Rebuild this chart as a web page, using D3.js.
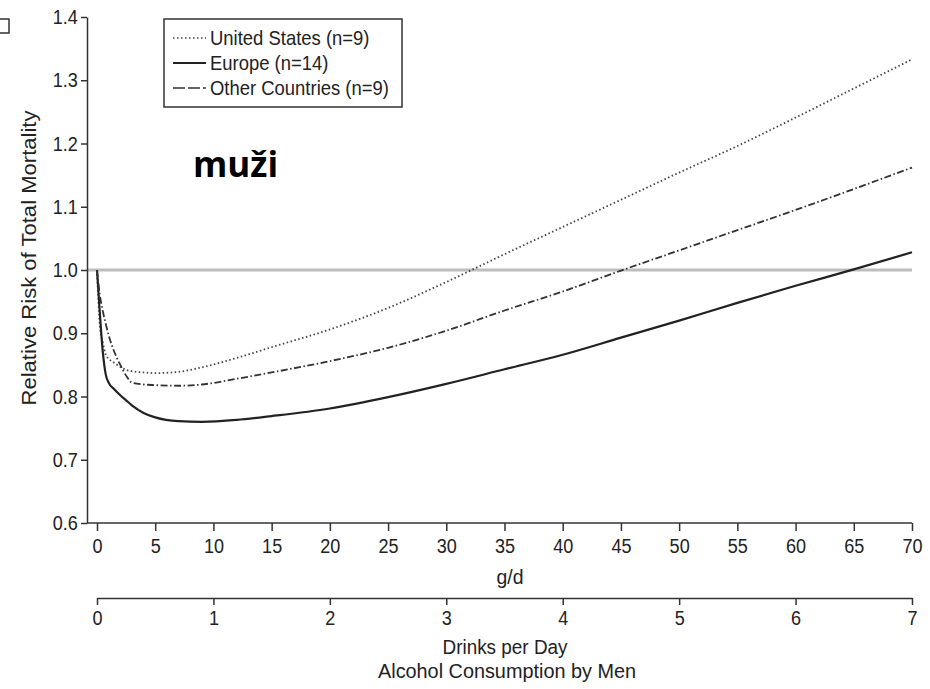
<!DOCTYPE html>
<html>
<head>
<meta charset="utf-8">
<script src="https://cdn.jsdelivr.net/npm/d3@7"></script>
<style>
  body { margin: 0; background: #fff; }
  svg { display: block; }
  text { font-family: "Liberation Sans Narrow", "Arial Narrow", "Liberation Sans", Arial, sans-serif; fill: #222; }
</style>
</head>
<body>
<svg id="chart" width="930" height="689"></svg>
<script>
// grams per day where the curves are read
const gramsPerDay = [0, 0.25, 0.5, 0.75, 1, 1.5, 2, 2.5, 3, 4, 5, 7, 9, 12, 15, 20, 25, 30, 35, 40, 45, 50, 55, 60, 65, 70];

// relative risk, one array per region
const unitedStates = [1.0, 0.912, 0.885, 0.866, 0.860, 0.853, 0.847, 0.842, 0.840, 0.838, 0.837, 0.839, 0.846, 0.861, 0.878, 0.906, 0.940, 0.981, 1.025, 1.068, 1.111, 1.154, 1.196, 1.241, 1.287, 1.333];
const europe = [1.0, 0.93, 0.87, 0.835, 0.822, 0.811, 0.802, 0.794, 0.786, 0.774, 0.767, 0.761, 0.760, 0.763, 0.769, 0.781, 0.799, 0.820, 0.843, 0.866, 0.893, 0.920, 0.948, 0.975, 1.001, 1.028];
const otherCountries = [1.0, 0.96, 0.935, 0.915, 0.897, 0.870, 0.850, 0.833, 0.822, 0.819, 0.818, 0.817, 0.819, 0.828, 0.838, 0.856, 0.877, 0.904, 0.936, 0.966, 0.999, 1.031, 1.063, 1.095, 1.128, 1.162];

const legendLabels = ["United States (n=9)", "Europe (n=14)", "Other Countries (n=9)"];
const yTicks = [0.6, 0.7, 0.8, 0.9, 1.0, 1.1, 1.2, 1.3, 1.4];
const gTicks = [0, 5, 10, 15, 20, 25, 30, 35, 40, 45, 50, 55, 60, 65, 70];
const drinkTicks = [0, 1, 2, 3, 4, 5, 6, 7];

const svg = d3.select("#chart");

const x = d3.scaleLinear().domain([0, 70]).range([97, 912]);
const xDrinks = d3.scaleLinear().domain([0, 7]).range([97, 912]);
const y = d3.scaleLinear().domain([0.6, 1.4]).range([523, 17]);

const axisColor = "#333";
const fontSize = 20.5;
const squeeze = "scale(0.88,1)"; // no narrow font installed, so squash the regular one

// little cut-off box in the corner
svg.append("rect")
  .attr("x", -6).attr("y", 19).attr("width", 15).attr("height", 14)
  .attr("fill", "none").attr("stroke", axisColor).attr("stroke-width", 1.5);

// reference line at RR = 1
svg.append("line")
  .attr("x1", 87).attr("x2", 912)
  .attr("y1", y(1)).attr("y2", y(1))
  .attr("stroke", "#bdbdbd").attr("stroke-width", 3);

// y axis
const yAxis = svg.append("g")
  .attr("transform", "translate(87,0)")
  .call(d3.axisLeft(y).tickValues(yTicks).tickFormat(d3.format(".1f")).tickSize(6).tickSizeOuter(0).tickPadding(4.5));

// g/d axis
const gAxis = svg.append("g")
  .attr("transform", `translate(0,${y(0.6)})`)
  .call(d3.axisBottom(x).tickValues(gTicks).tickSize(8).tickSizeOuter(0).tickPadding(7));
gAxis.select(".domain").remove();
gAxis.append("line")
  .attr("x1", 87).attr("x2", 912).attr("y1", 0).attr("y2", 0)
  .attr("stroke", axisColor).attr("stroke-width", 1.5);

// drinks per day axis
const dAxis = svg.append("g")
  .attr("transform", "translate(0,598)")
  .call(d3.axisBottom(xDrinks).tickValues(drinkTicks).tickFormat(d3.format("d")).tickSize(7).tickSizeOuter(0).tickPadding(5.5));

[yAxis, gAxis, dAxis].forEach(g => {
  g.selectAll(".domain").attr("stroke", axisColor).attr("stroke-width", 1.5);
  g.selectAll(".tick line").attr("stroke", axisColor).attr("stroke-width", 1.5);
  g.selectAll(".tick text")
    .attr("font-size", fontSize)
    .attr("fill", "#222")
    .attr("transform", squeeze)
    .style("font-family", '"Liberation Sans Narrow", "Arial Narrow", "Liberation Sans", Arial, sans-serif');
});

// axis titles, stretched to the lengths in the picture
svg.append("text")
  .attr("transform", "translate(36,258) rotate(-90)")
  .attr("text-anchor", "middle").attr("font-size", fontSize)
  .attr("textLength", 295).attr("lengthAdjust", "spacingAndGlyphs")
  .text("Relative Risk of Total Mortality");

svg.append("text").attr("x", 510).attr("y", 584).attr("text-anchor", "middle").attr("font-size", fontSize)
  .attr("textLength", 27).attr("lengthAdjust", "spacingAndGlyphs").text("g/d");
svg.append("text").attr("x", 505).attr("y", 654).attr("text-anchor", "middle").attr("font-size", fontSize)
  .attr("textLength", 125).attr("lengthAdjust", "spacingAndGlyphs").text("Drinks per Day");
svg.append("text").attr("x", 507).attr("y", 678).attr("text-anchor", "middle").attr("font-size", fontSize)
  .attr("textLength", 258).attr("lengthAdjust", "spacingAndGlyphs").text("Alcohol Consumption by Men");

// curves
const series = [
  { values: unitedStates, dash: "1.5,2.5", width: 1.8, color: "#444" },
  { values: europe, dash: null, width: 2.2, color: "#222" },
  { values: otherCountries, dash: "7,2.5,1.5,2.5", width: 1.8, color: "#333" }
];

const line = d3.line()
  .x((d, i) => x(gramsPerDay[i]))
  .y(d => y(d))
  .curve(d3.curveMonotoneX);

svg.append("g").selectAll("path")
  .data(series)
  .join("path")
  .attr("d", s => line(s.values))
  .attr("fill", "none")
  .attr("stroke", s => s.color)
  .attr("stroke-width", s => s.width)
  .attr("stroke-dasharray", s => s.dash);

// legend
const legend = svg.append("g");
legend.append("rect")
  .attr("x", 164).attr("y", 19).attr("width", 238).attr("height", 88)
  .attr("fill", "#fff").attr("stroke", axisColor).attr("stroke-width", 1.5);

const rows = legend.selectAll("g.row")
  .data(series)
  .join("g")
  .attr("class", "row")
  .attr("transform", (d, i) => `translate(0,${38 + i * 25})`);

rows.append("line")
  .attr("x1", 173).attr("x2", 206).attr("y1", 0).attr("y2", 0)
  .attr("stroke", s => s.color)
  .attr("stroke-width", s => s.width * 0.8)
  .attr("stroke-dasharray", (s, i) => i === 2 ? "12,3" : s.dash);

rows.append("text")
  .attr("transform", "translate(210,0) scale(0.9,1)")
  .attr("dy", "0.35em")
  .attr("font-size", fontSize)
  .text((d, i) => legendLabels[i]);

// panel label
svg.append("text")
  .attr("x", 193).attr("y", 177)
  .attr("font-size", 35).attr("font-weight", 700)
  .style("font-family", '"Open Sans", "Noto Sans", sans-serif')
  .style("fill", "#000")
  .text("muži");
</script>
</body>
</html>
